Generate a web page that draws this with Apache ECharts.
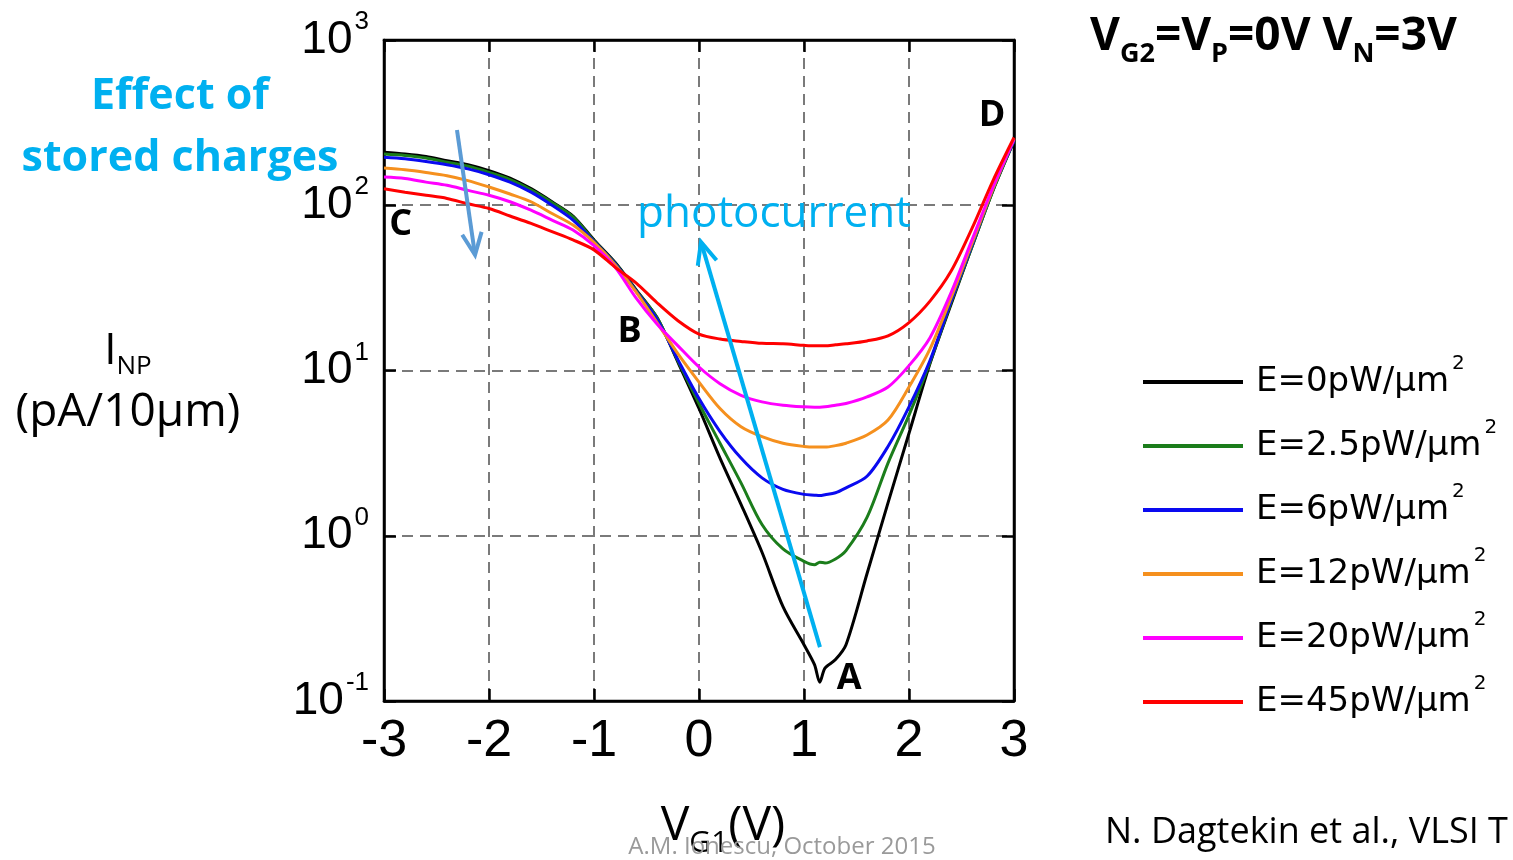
<!DOCTYPE html>
<html>
<head>
<meta charset="utf-8">
<script src="https://cdn.jsdelivr.net/npm/echarts@6/dist/echarts.min.js"></script>
<style>
html,body{margin:0;padding:0;background:#fff;}
#chart{width:1513px;height:860px;}
</style>
</head>
<body>
<div id="chart"></div>
<script>
// ---- data ----
const vg1 = [-3.0,-2.8,-2.6,-2.4,-2.2,-2.0,-1.8,-1.6,-1.4,-1.2,-1.0,-0.8,-0.6,-0.4,-0.2,0.0,0.2,0.4,0.6,0.8,1.0,1.1,1.15,1.2,1.3,1.4,1.6,1.8,2.0,2.2,2.4,2.6,2.8,3.0];
const iE0   = [209,204,197,186,176,162,146,126,105,86.1,61.7,45.2,30.9,20.9,11.2,5.89,2.95,1.55,0.794,0.372,0.219,0.166,0.130,0.158,0.178,0.219,0.589,1.58,4.17,11.0,25.1,56.2,123,245];
const iE2_5 = [204,200,193,182,172,158,143,124,104,85.1,61.0,44.7,30.5,20.9,11.4,6.31,3.63,2.09,1.17,0.832,0.700,0.668,0.692,0.684,0.724,0.813,1.29,2.75,5.37,11.2,25.7,56.2,123,245];
const iE6   = [195,191,184,176,166,153,138,120,100,81.3,60.3,44.2,30.2,20.4,11.6,6.76,4.27,2.95,2.24,1.91,1.78,1.76,1.75,1.77,1.82,1.95,2.29,3.47,6.03,11.5,26.3,57.5,126,245];
const iE12  = [168,164,158,151,141,129,117,105,89.1,75.9,59.6,43.7,29.9,19.5,12.6,8.51,5.89,4.57,3.98,3.63,3.47,3.44,3.44,3.44,3.51,3.63,4.07,5.01,7.94,13.5,27.5,58.9,126,251];
const iE20  = [148,145,138,132,123,115,105,93.3,81.3,70.8,56.9,42.2,27.5,19.1,14.1,10.5,8.32,7.08,6.46,6.17,6.03,6.00,6.00,6.03,6.17,6.31,6.92,7.94,10.7,15.8,29.5,61.7,129,251];
const iE45  = [126,120,115,110,102,95.5,86.1,77.6,69.2,61.7,53.7,42.2,33.9,25.7,20.0,16.6,15.5,15.0,14.6,14.5,14.2,14.1,14.1,14.1,14.3,14.5,15.1,16.2,19.5,26.3,39.8,72.4,141,257];
const seriesNames = ['E=0pW/µm²','E=2.5pW/µm²','E=6pW/µm²','E=12pW/µm²','E=20pW/µm²','E=45pW/µm²'];
const seriesValues = [iE0, iE2_5, iE6, iE12, iE20, iE45];

// annotation anchors (data coordinates: V_G1, I_NP)
const pointLetters = ['A','B','C','D'];
const pointV = [1.43, -0.66, -2.84, 2.79];
const pointI = [0.136, 17.1, 76.0, 347];
const storedArrowFrom = [-2.305, 285];
const storedArrowTo = [-2.133, 50.0];
const photoArrowFrom = [1.152, 0.212];
const photoArrowTo = [0.019, 60.0];
const photoTextAt = [0.714, 88.5];

// ---- styling ----
const colors = ['#000000','#1b7d1b','#0a0af0','#f5901e','#ff00ff','#ff0000'];
const tickFont = '"Liberation Sans", Arial, sans-serif';
const legendFont = '"DejaVu Sans", Verdana, sans-serif';
const slideFont = '"Open Sans", "Lato", sans-serif';

const chart = echarts.init(document.getElementById('chart'), null, {renderer:'canvas'});

const frameLine = {show:true, onZero:false, lineStyle:{color:'#000', width:2.5}};
const frameTick = {show:true, inside:true, length:12, lineStyle:{color:'#000', width:2.5}};
const gridDash = {show:true, showMinLine:false, showMaxLine:false, lineStyle:{color:'#7a7a7a', width:2, type:[11,7]}};

const option = {
  animation:false,
  backgroundColor:'#ffffff',
  grid:{left:384, top:40, width:630, height:661, show:true, borderColor:'#000', borderWidth:2.5, backgroundColor:'transparent', containLabel:false},
  xAxis:[
    {type:'value', min:-3, max:3, interval:1, position:'bottom',
     axisLine:frameLine, axisTick:frameTick,
     axisLabel:{margin:15, fontSize:52, fontFamily:tickFont, color:'#000'},
     splitLine:gridDash},
    {type:'value', min:-3, max:3, interval:1, position:'top',
     axisLine:frameLine, axisTick:frameTick, axisLabel:{show:false}, splitLine:{show:false}}
  ],
  yAxis:[
    {type:'log', logBase:10, min:0.1, max:1000, position:'left',
     axisLine:frameLine, axisTick:frameTick,
     axisLabel:{margin:15, color:'#000',
       formatter:function(v){ return '{b|10}{s|' + Math.round(Math.log10(v)) + '}'; },
       rich:{
         b:{fontSize:46, fontFamily:tickFont, lineHeight:46, verticalAlign:'middle', color:'#000'},
         s:{fontSize:26, fontFamily:tickFont, lineHeight:62, padding:[0,0,0,2], verticalAlign:'top', color:'#000'}
       }},
     splitLine:gridDash, minorTick:{show:false}},
    {type:'log', logBase:10, min:0.1, max:1000, position:'right',
     axisLine:frameLine, axisTick:frameTick, axisLabel:{show:false}, splitLine:{show:false}}
  ],
  legend:{
    orient:'vertical', left:1143, top:354, padding:0, itemGap:19,
    itemWidth:100, itemHeight:4, icon:'rect',
    data:seriesNames,
    formatter:function(n){ return '{t|' + n.replace('²','') + '}{s|2}'; },
    textStyle:{color:'#000',
      rich:{
        t:{fontSize:34, fontFamily:legendFont, lineHeight:40, padding:[0,0,0,8], verticalAlign:'middle', color:'#000'},
        s:{fontSize:20, fontFamily:legendFont, lineHeight:56, padding:[0,0,0,3], verticalAlign:'top', color:'#000'}
      }}
  },
  series: seriesNames.map(function(name, k){
    return {
      name:name, type:'line', xAxisIndex:0, yAxisIndex:0,
      data: vg1.map(function(v, i){ return [v, seriesValues[k][i]]; }),
      showSymbol:false, symbol:'none', smooth:0.3,
      lineStyle:{color:colors[k], width:3},
      itemStyle:{color:colors[k]},
      z:2+k
    };
  })
};
chart.setOption(option);

function px(p){ return chart.convertToPixel({xAxisIndex:0, yAxisIndex:0}, p); }
function arrow(from, to, color, width, head){
  const a = px(from), b = px(to);
  const ang = Math.atan2(b[1]-a[1], b[0]-a[0]);
  const sp = 0.42;
  const p1 = [b[0]-head*Math.cos(ang-sp), b[1]-head*Math.sin(ang-sp)];
  const p2 = [b[0]-head*Math.cos(ang+sp), b[1]-head*Math.sin(ang+sp)];
  return [
    {type:'line', z:100, shape:{x1:a[0], y1:a[1], x2:b[0], y2:b[1]}, style:{stroke:color, lineWidth:width}},
    {type:'polyline', z:100, shape:{points:[p1, b, p2]}, style:{stroke:color, lineWidth:width, fill:null}}
  ];
}

const graphics = [];
// title
graphics.push({type:'text', left:1090, top:14, z:100, style:{
  text:'{m|V}{s|G2}{m|=V}{s|P}{m|=0V V}{s|N}{m|=3V}',
  rich:{
    m:{fontSize:46, fontWeight:'bold', fontFamily:slideFont, lineHeight:46, verticalAlign:'top', fill:'#000'},
    s:{fontSize:27, fontWeight:'bold', fontFamily:slideFont, lineHeight:54, verticalAlign:'bottom', fill:'#000'}
  }}});
// y axis name
graphics.push({type:'text', x:128, y:329, z:100, style:{
  text:'{m|I}{s|NP}\n{n|(pA/10µm)}', align:'center', verticalAlign:'top',
  rich:{
    m:{fontSize:44, fontFamily:slideFont, lineHeight:44, verticalAlign:'top', fill:'#000'},
    s:{fontSize:26, fontFamily:slideFont, lineHeight:51, verticalAlign:'bottom', fill:'#000'},
    n:{fontSize:46, fontFamily:slideFont, lineHeight:56, verticalAlign:'bottom', fill:'#000'}
  }}});
// x axis name
graphics.push({type:'text', x:723, y:802, z:100, style:{
  text:'{m|V}{s|G1}{m|(V)}', align:'center', verticalAlign:'top',
  rich:{
    m:{fontSize:48, fontFamily:slideFont, lineHeight:48, verticalAlign:'top', fill:'#000'},
    s:{fontSize:30, fontFamily:slideFont, lineHeight:56, verticalAlign:'bottom', fill:'#000'}
  }}});
// footer and citation
graphics.push({type:'text', x:782, y:847, z:101, style:{text:'A.M. Ionescu, October 2015', align:'center', verticalAlign:'middle', fontSize:24, fontFamily:slideFont, fill:'#9a9a9a'}});
graphics.push({type:'text', x:1105, y:833, z:100, style:{text:'N. Dagtekin et al., VLSI T', align:'left', verticalAlign:'middle', fontSize:36, fontFamily:slideFont, fill:'#000'}});
// effect of stored charges
graphics.push({type:'text', x:180, y:66, z:100, style:{text:'Effect of\nstored charges', align:'center', verticalAlign:'top', fontSize:43, lineHeight:62, fontWeight:'bold', fontFamily:slideFont, fill:'#00b0f0'}});
// photocurrent
const pt = px(photoTextAt);
graphics.push({type:'text', x:pt[0], y:pt[1], z:100, style:{text:'photocurrent', align:'center', verticalAlign:'middle', fontSize:44, fontFamily:slideFont, fill:'#00b0f0'}});
// letters
pointLetters.forEach(function(L, i){
  const p = px([pointV[i], pointI[i]]);
  graphics.push({type:'text', x:p[0], y:p[1], z:100, style:{text:L, align:'center', verticalAlign:'middle', fontSize:36, fontWeight:'bold', fontFamily:slideFont, fill:'#000'}});
});
// arrows
arrow(storedArrowFrom, storedArrowTo, '#5b9bd5', 4, 24).forEach(function(g){ graphics.push(g); });
arrow(photoArrowFrom, photoArrowTo, '#00b0f0', 4, 24).forEach(function(g){ graphics.push(g); });

chart.setOption({graphic:{elements:graphics}});
</script>
</body>
</html>
